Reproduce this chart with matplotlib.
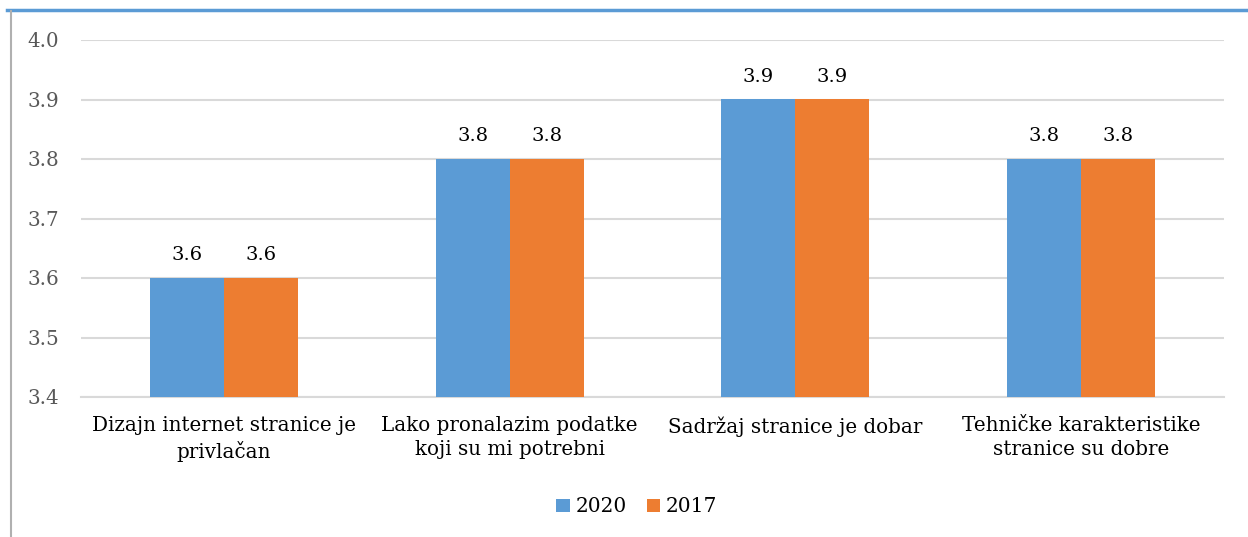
import numpy as np
import matplotlib.pyplot as plt
from matplotlib.lines import Line2D

categories = ["Dizajn internet stranice je\nprivlačan",
              "Lako pronalazim podatke\nkoji su mi potrebni",
              "Sadržaj stranice je dobar",
              "Tehničke karakteristike\nstranice su dobre"]
series_names = ["2020", "2017"]
values_2020 = [3.6, 3.8, 3.9, 3.8]
values_2017 = [3.6, 3.8, 3.9, 3.8]
colors = ["#5b9bd5", "#ed7d31"]

plt.rcParams['font.family'] = ['DejaVu Serif']

fig = plt.figure(figsize=(12.48, 5.37), dpi=100)
ax = fig.add_axes([81 / 1248, 1 - 397 / 537, (1224 - 81) / 1248, (397 - 40) / 537])

x = np.arange(len(categories))
w = 0.259
for i, vals in enumerate([values_2020, values_2017]):
    pos = x + (i - 0.5) * w
    ax.bar(pos, np.array(vals) - 3.4, bottom=3.4, width=w,
           color=colors[i], label=series_names[i], zorder=3)
    for p, v in zip(pos, vals):
        ax.text(p, v + 0.023, f"{v:.1f}", ha='center', va='bottom',
                fontsize=14, color='#000000')

ax.set_xlim(-0.5, len(categories) - 0.5)
ax.set_ylim(3.4, 4.0)
ax.set_yticks(np.arange(3.4, 4.01, 0.1))
ax.set_yticklabels([f"{t:.1f}" for t in np.arange(3.4, 4.01, 0.1)])
ax.set_xticks(x)
ax.set_xticklabels(categories, fontsize=14.3, color='#000000', linespacing=1.3)
ax.tick_params(axis='y', length=0, labelsize=14.3, labelcolor='#595959', pad=16)
ax.tick_params(axis='x', length=0, pad=14)
ax.grid(axis='y', color='#d9d9d9', linewidth=1.5, zorder=0)
for s in ['top', 'right', 'left']:
    ax.spines[s].set_visible(False)
ax.spines['bottom'].set_color('#d9d9d9')
ax.spines['bottom'].set_linewidth(1.5)

leg = fig.legend(loc='center', bbox_to_anchor=(637 / 1248, 1 - 507 / 537),
                 ncol=2, frameon=False, fontsize=14.5, handlelength=0.65,
                 handleheight=0.65, handletextpad=0.3, columnspacing=1.0)

# border lines of the chart frame
fig.add_artist(Line2D([7 / 1248, 1], [1 - 9.5 / 537, 1 - 9.5 / 537],
                      color='#5b9bd5', linewidth=2.5, transform=fig.transFigure))
fig.add_artist(Line2D([10.5 / 1248, 10.5 / 1248], [0, 1 - 11 / 537],
                      color='#b0b0b0', linewidth=1.5, transform=fig.transFigure))

fig.savefig("out.png", dpi=100)
